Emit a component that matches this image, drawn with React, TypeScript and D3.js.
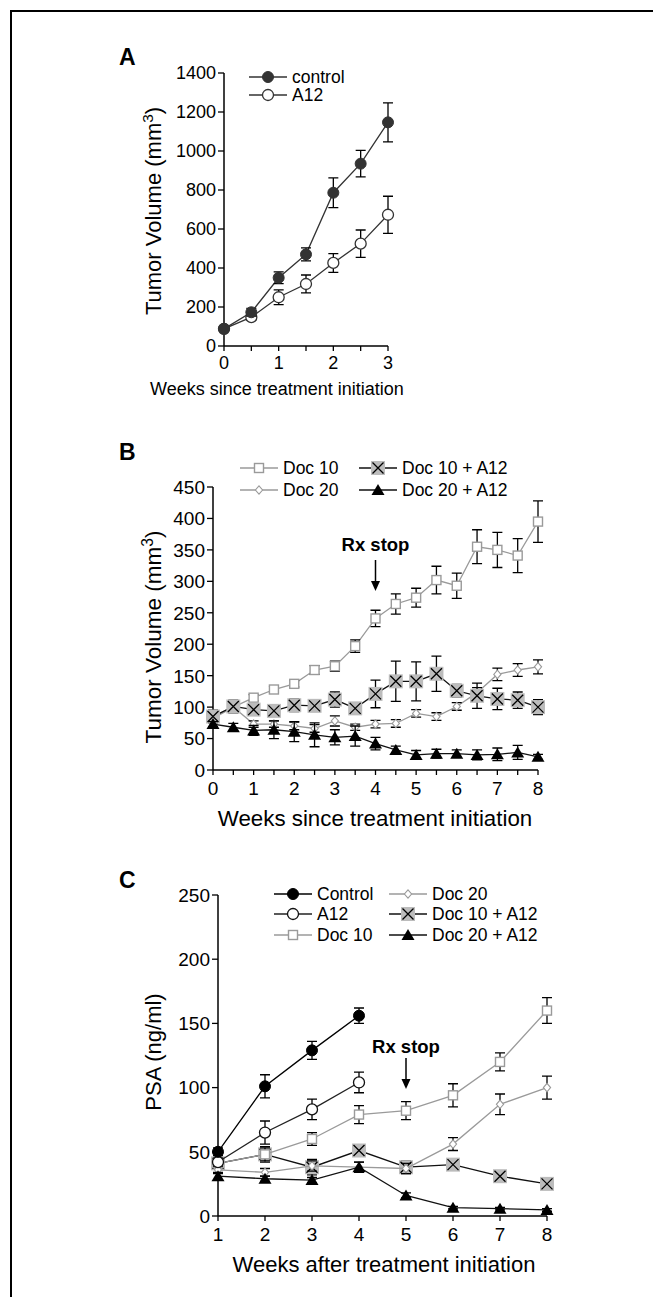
import * as d3 from "d3";

// ---- data ----
// Panel A: tumor volume, control vs A12
const weeksA = [0, 0.5, 1, 1.5, 2, 2.5, 3];
const controlA = [88, 173, 350, 470, 786, 935, 1147];
const controlAErr = [0, 20, 30, 33, 76, 68, 100];
const a12A = [88, 148, 250, 318, 426, 525, 673];
const a12AErr = [0, 15, 38, 46, 48, 70, 95];

// Panel B: tumor volume, docetaxel +/- A12
const weeksB = [0, 0.5, 1, 1.5, 2, 2.5, 3, 3.5, 4, 4.5, 5, 5.5, 6, 6.5, 7, 7.5, 8];
const doc10B = [85, 100, 115, 128, 137, 159, 165, 197, 241, 264, 274, 302, 293, 355, 350, 341, 395];
const doc10BErr = [5, 5, 5, 5, 5, 7, 8, 10, 13, 16, 15, 22, 20, 27, 28, 27, 33];
const doc20B = [82, 100, 73, 73, 70, 66, 78, 68, 73, 74, 90, 85, 101, 123, 152, 159, 164];
const doc20BErr = [5, 5, 5, 5, 6, 6, 8, 5, 6, 6, 6, 6, 6, 8, 10, 10, 11];
const doc10A12B = [85, 101, 96, 94, 103, 102, 112, 98, 121, 141, 141, 153, 126, 118, 113, 111, 100];
const doc10A12BErr = [10, 10, 8, 8, 10, 8, 12, 6, 22, 32, 31, 28, 10, 20, 17, 13, 12];
const doc20A12B = [73, 68, 63, 64, 61, 56, 52, 54, 42, 32, 24, 26, 26, 24, 25, 28, 21];
const doc20A12BErr = [4, 6, 8, 14, 16, 19, 12, 16, 10, 6, 7, 7, 6, 8, 10, 11, 4];

// Panel C: PSA
const weeksC = [1, 2, 3, 4, 5, 6, 7, 8];
const controlC = [50, 101, 129, 156];
const controlCErr = [3, 9, 7, 6];
const a12C = [42, 65, 83, 104];
const a12CErr = [3, 9, 8, 8];
const doc10C = [41, 48, 60, 79, 82, 94, 120, 160];
const doc10CErr = [3, 5, 5, 7, 7, 9, 7, 10];
const doc20C = [36, 34, 39, 38, 37, 56, 87, 100];
const doc20CErr = [3, 3, 4, 4, 4, 5, 8, 9];
const doc10A12C = [41, 48, 38, 51, 38, 40, 31, 25];
const doc10A12CErr = [3, 6, 6, 3, 5, 3, 2, 2];
const doc20A12C = [31, 29, 28, 38, 16, 6.5, 5.7, 4.7];
const doc20A12CErr = [3, 2, 2, 4, 2, 1, 1, 1];

const ticksA = [0, 200, 400, 600, 800, 1000, 1200, 1400];
const ticksB = [0, 50, 100, 150, 200, 250, 300, 350, 400, 450];
const ticksC = [0, 50, 100, 150, 200, 250];

const FONT = "'Liberation Sans', Arial, Helvetica, sans-serif";

type Marker = "dot" | "ring" | "square" | "diamond" | "xbox" | "tri";

interface Series {
	name: string;
	x: number[];
	y: number[];
	err: number[];
	line: string;
	color: string;
	marker: Marker;
}

const GREY = "#9a9a9a";

const Glyph = ({ m, color }: { m: Marker; color: string }) => {
	switch (m) {
		case "dot":
			return <circle r={5.5} fill={color} stroke={color} strokeWidth={1} />;
		case "ring":
			return <circle r={5.5} fill="#fff" stroke={color} strokeWidth={1.3} />;
		case "square":
			return <rect x={-4.5} y={-4.5} width={9} height={9} fill="#fff" stroke={color} strokeWidth={1.4} />;
		case "diamond":
			return <path d="M0,-4.2L3.6,0L0,4.2L-3.6,0Z" fill="#fff" stroke={color} strokeWidth={1.1} />;
		case "xbox":
			return (
				<g>
					<rect x={-7} y={-7} width={14} height={14} fill="#bcbcbc" />
					<path d="M-5.5,-5.5L5.5,5.5M5.5,-5.5L-5.5,5.5" stroke="#000" strokeWidth={1.3} />
				</g>
			);
		case "tri":
			return <path d="M0,-6L6.5,5L-6.5,5Z" fill={color} />;
	}
};

interface PanelProps {
	letter: string;
	letterY: number;
	x: d3.ScaleLinear<number, number>;
	y: d3.ScaleLinear<number, number>;
	xTicks: number[];
	xLabels: number[];
	yTicks: number[];
	series: Series[];
	xTitle: string;
	xTitleX: number;
	yTitle: React.ReactNode;
	yTitleY: number;
	tickFont: number;
	titleFont: number;
	yTitleFont: number;
	legend: { s: Series; x: number; y: number }[];
	rx?: { week: number; textY: number; y0: number; y1: number };
}

const Panel = (p: PanelProps) => {
	const [x0, x1] = p.x.range();
	const [yb, yt] = p.y.range();
	const line = (s: Series) =>
		d3
			.line<number>()
			.x((_, i) => p.x(s.x[i]))
			.y((d) => p.y(d))(s.y) || "";
	return (
		<g fontFamily={FONT}>
			<text x={119} y={p.letterY} fontSize={23} fontWeight="bold">
				{p.letter}
			</text>
			{/* axes */}
			<line x1={x0} x2={x0} y1={yb} y2={yt} stroke="#000" strokeWidth={1.5} />
			<line x1={x0} x2={x1} y1={yb} y2={yb} stroke="#000" strokeWidth={1.5} />
			{p.yTicks.map((t) => (
				<g key={"y" + t}>
					<line x1={x0 - 6} x2={x0} y1={p.y(t)} y2={p.y(t)} stroke="#000" strokeWidth={1.3} />
					<text x={x0 - 8} y={p.y(t)} dy="0.36em" textAnchor="end" fontSize={p.tickFont}>
						{t}
					</text>
				</g>
			))}
			{p.xTicks.map((t) => (
				<line key={"x" + t} x1={p.x(t)} x2={p.x(t)} y1={yb} y2={yb + 5} stroke="#000" strokeWidth={1.3} />
			))}
			{p.xLabels.map((t) => (
				<text key={"xl" + t} x={p.x(t)} y={yb + p.tickFont * 1.3} textAnchor="middle" fontSize={p.tickFont}>
					{t}
				</text>
			))}
			<text x={p.xTitleX} y={yb + p.tickFont * 1.3 + p.titleFont * 1.4} textAnchor="middle" fontSize={p.titleFont}>
				{p.xTitle}
			</text>
			<text
				transform={`translate(153,${p.yTitleY}) rotate(-90)`}
				textAnchor="middle"
				dy="0.36em"
				fontSize={p.yTitleFont}
			>
				{p.yTitle}
			</text>
			{/* series */}
			{p.series.map((s) => (
				<g key={s.name}>
					<path d={line(s)} fill="none" stroke={s.line} strokeWidth={1.3} />
					{s.y.map((v, i) =>
						s.err[i] > 0 ? (
							<path
								key={i}
								d={`M${p.x(s.x[i])},${p.y(v - s.err[i])}V${p.y(v + s.err[i])}M${p.x(s.x[i]) - 5},${p.y(v - s.err[i])}h10M${p.x(s.x[i]) - 5},${p.y(v + s.err[i])}h10`}
								stroke="#000"
								strokeWidth={1.3}
								fill="none"
							/>
						) : null
					)}
					{s.y.map((v, i) => (
						<g key={"m" + i} transform={`translate(${p.x(s.x[i])},${p.y(v)})`}>
							<Glyph m={s.marker} color={s.color} />
						</g>
					))}
				</g>
			))}
			{/* legend */}
			{p.legend.map((l) => (
				<g key={"lg" + l.s.name} transform={`translate(${l.x},${l.y})`}>
					<line x1={0} x2={38} y1={0} y2={0} stroke={l.s.line} strokeWidth={1.3} />
					<g transform="translate(19,0)">
						<Glyph m={l.s.marker} color={l.s.color} />
					</g>
					<text x={43} dy="0.36em" fontSize={17.5}>
						{l.s.name}
					</text>
				</g>
			))}
			{p.rx && (
				<g>
					<text x={p.x(p.rx.week)} y={p.rx.textY} dy="0.36em" textAnchor="middle" fontSize={18.5} fontWeight="bold">
						Rx stop
					</text>
					<line x1={p.x(p.rx.week)} x2={p.x(p.rx.week)} y1={p.rx.y0} y2={p.rx.y1 - 8} stroke="#000" strokeWidth={1.5} />
					<path d={`M${p.x(p.rx.week)},${p.rx.y1}l-4.5,-10h9Z`} fill="#000" />
				</g>
			)}
		</g>
	);
};

const mk = (name: string, x: number[], y: number[], err: number[], line: string, color: string, marker: Marker): Series => ({
	name,
	x,
	y,
	err,
	line,
	color,
	marker,
});

const App = () => {
	// Panel A
	const xA = d3.scaleLinear().domain([0, 3]).range([224, 388]);
	const yA = d3.scaleLinear().domain([0, 1400]).range([346, 73]);
	const sA = [
		mk("A12", weeksA, a12A, a12AErr, "#333", "#333", "ring"),
		mk("control", weeksA, controlA, controlAErr, "#333", "#333", "dot"),
	];

	// Panel B
	const xB = d3.scaleLinear().domain([0, 8]).range([213, 538]);
	const yB = d3.scaleLinear().domain([0, 450]).range([770, 487]);
	const sB = [
		mk("Doc 10", weeksB, doc10B, doc10BErr, GREY, GREY, "square"),
		mk("Doc 20", weeksB, doc20B, doc20BErr, GREY, GREY, "diamond"),
		mk("Doc 10 + A12", weeksB, doc10A12B, doc10A12BErr, "#111", "#000", "xbox"),
		mk("Doc 20 + A12", weeksB, doc20A12B, doc20A12BErr, "#111", "#000", "tri"),
	];

	// Panel C
	const xC = d3.scaleLinear().domain([1, 8]).range([218, 547]);
	const yC = d3.scaleLinear().domain([0, 250]).range([1216, 895]);
	const sC = [
		mk("Doc 10 + A12", weeksC, doc10A12C, doc10A12CErr, "#111", "#000", "xbox"),
		mk("Doc 10", weeksC, doc10C, doc10CErr, GREY, GREY, "square"),
		mk("Doc 20", weeksC, doc20C, doc20CErr, GREY, GREY, "diamond"),
		mk("Doc 20 + A12", weeksC, doc20A12C, doc20A12CErr, "#111", "#000", "tri"),
		mk("A12", weeksC.slice(0, 4), a12C, a12CErr, "#222", "#111", "ring"),
		mk("Control", weeksC.slice(0, 4), controlC, controlCErr, "#000", "#000", "dot"),
	];

	const mm3 = (
		<>
			Tumor Volume (mm
			<tspan dy={-8} fontSize="70%">
				3
			</tspan>
			<tspan dy={8}>)</tspan>
		</>
	);

	return (
		<svg width={653} height={1297} style={{ position: "absolute", left: 0, top: 0, background: "#fff" }}>
			<rect width={653} height={1297} fill="#fff" />
			<path d="M11,1297V11H653" fill="none" stroke="#000" strokeWidth={2} />
			<Panel
				letter="A"
				letterY={65}
				x={xA}
				y={yA}
				xTicks={weeksA}
				xLabels={[0, 1, 2, 3]}
				yTicks={ticksA}
				series={sA}
				xTitle="Weeks since treatment initiation"
				xTitleX={277}
				yTitle={mm3}
				yTitleY={211}
				tickFont={18}
				titleFont={18}
				yTitleFont={22}
				legend={[
					{ s: sA[1], x: 249, y: 77 },
					{ s: sA[0], x: 249, y: 95 },
				]}
			/>
			<Panel
				letter="B"
				letterY={460}
				x={xB}
				y={yB}
				xTicks={weeksB}
				xLabels={[0, 1, 2, 3, 4, 5, 6, 7, 8]}
				yTicks={ticksB}
				series={sB}
				xTitle="Weeks since treatment initiation"
				xTitleX={375}
				yTitle={mm3}
				yTitleY={637}
				tickFont={19}
				titleFont={22.3}
				yTitleFont={22.5}
				legend={[
					{ s: sB[0], x: 240, y: 468 },
					{ s: sB[1], x: 240, y: 490 },
					{ s: sB[2], x: 359, y: 468 },
					{ s: sB[3], x: 359, y: 490 },
				]}
				rx={{ week: 4, textY: 544, y0: 560, y1: 591 }}
			/>
			<Panel
				letter="C"
				letterY={888}
				x={xC}
				y={yC}
				xTicks={weeksC}
				xLabels={weeksC}
				yTicks={ticksC}
				series={sC}
				xTitle="Weeks after treatment initiation"
				xTitleX={384}
				yTitle="PSA (ng/ml)"
				yTitleY={1052}
				tickFont={19}
				titleFont={22}
				yTitleFont={22}
				legend={[
					{ s: sC[5], x: 274, y: 894 },
					{ s: sC[4], x: 274, y: 914 },
					{ s: sC[1], x: 274, y: 935 },
					{ s: sC[2], x: 389, y: 894 },
					{ s: sC[0], x: 389, y: 914 },
					{ s: sC[3], x: 389, y: 935 },
				]}
				rx={{ week: 5, textY: 1046, y0: 1058, y1: 1089 }}
			/>
		</svg>
	);
};

export default App;
